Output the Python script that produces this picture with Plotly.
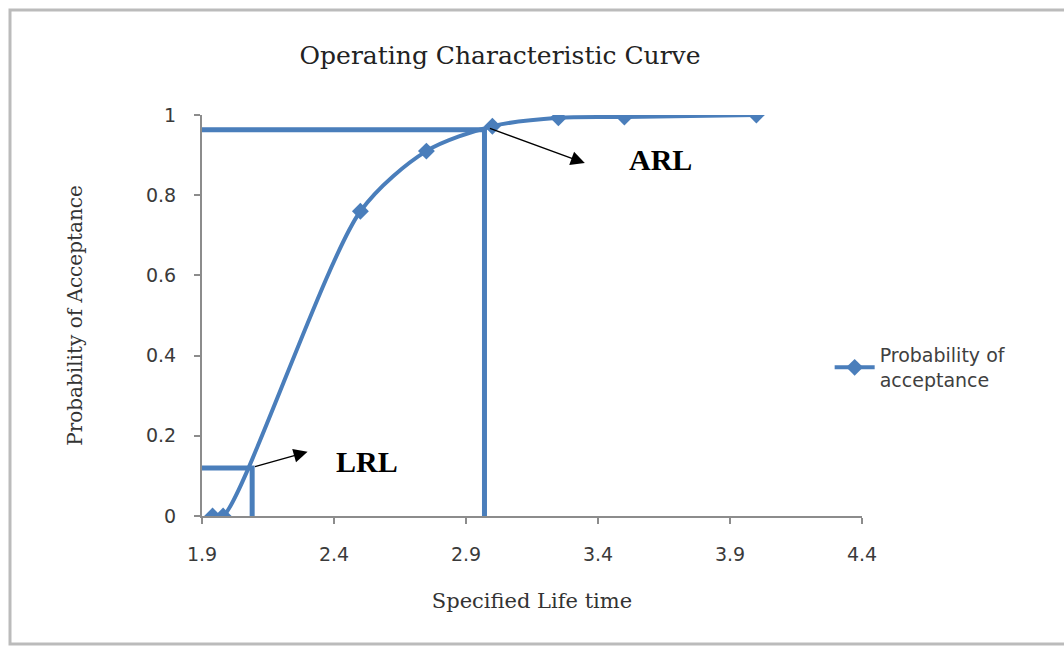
import plotly.graph_objects as go

# Data
life_time = [1.94, 1.98, 2.5, 2.75, 3.0, 3.25, 3.5, 4.0]
prob_accept = [0.0, 0.0, 0.76, 0.91, 0.972, 0.993, 0.995, 1.0]

arl_x = 2.97
arl_y = 0.963
lrl_x = 2.09
lrl_y = 0.12

x_ticks = [1.9, 2.4, 2.9, 3.4, 3.9, 4.4]
y_ticks = [0, 0.2, 0.4, 0.6, 0.8, 1]

BLUE = "#4A7EBB"
AXIS = "#8C8C8C"
SERIF = "DejaVu Serif"
SANS = "DejaVu Sans"

fig = go.Figure()

# Reference lines (ARL and LRL)
fig.add_trace(go.Scatter(
    x=[x_ticks[0], arl_x, arl_x], y=[arl_y, arl_y, 0],
    mode="lines", line=dict(color=BLUE, width=5), showlegend=False, hoverinfo="skip"))
fig.add_trace(go.Scatter(
    x=[x_ticks[0], lrl_x, lrl_x], y=[lrl_y, lrl_y, 0],
    mode="lines", line=dict(color=BLUE, width=5), showlegend=False, hoverinfo="skip"))

# OC curve
fig.add_trace(go.Scatter(
    x=life_time, y=prob_accept, mode="lines+markers",
    line=dict(color=BLUE, width=4, shape="spline", smoothing=0.8),
    marker=dict(symbol="diamond", size=13, color=BLUE),
    name="Probability of<br>acceptance"))

fig.update_layout(
    width=1064, height=646,
    margin=dict(l=202, r=202, t=115, b=130),
    paper_bgcolor="white", plot_bgcolor="white",
    title=dict(text="Operating Characteristic Curve", x=0.47, xanchor="center",
               y=1 - 55 / 646, yanchor="middle", yref="container",
               font=dict(family=SERIF, size=25, color="#222222")),
    xaxis=dict(range=[1.9, 4.4], tickvals=x_ticks, ticktext=[f"{v:g}" for v in x_ticks],
               showgrid=False, zeroline=False, showline=True, linecolor=AXIS, linewidth=2,
               ticks="outside", ticklen=6, tickcolor=AXIS, tickwidth=1.5,
               ticklabelstandoff=14,
               tickfont=dict(family=SANS, size=19, color="#3A3A3A"),
               title=dict(text="Specified Life time", standoff=30,
                          font=dict(family=SERIF, size=21, color="#333333"))),
    yaxis=dict(range=[0, 1.0], tickvals=y_ticks, ticktext=[f"{v:g}" for v in y_ticks],
               showgrid=False, zeroline=False, showline=True, linecolor=AXIS, linewidth=2,
               ticks="outside", ticklen=6, tickcolor=AXIS, tickwidth=1.5,
               ticklabelstandoff=14,
               tickfont=dict(family=SANS, size=19, color="#3A3A3A"),
               title=dict(text="Probability of Acceptance", standoff=58,
                          font=dict(family=SERIF, size=20, color="#333333"))),
    legend=dict(x=0.951, y=0.37, xanchor="left", yanchor="middle",
                font=dict(family=SANS, size=19, color="#404040"),
                bgcolor="rgba(0,0,0,0)", itemwidth=40),
    shapes=[dict(type="rect", xref="paper", yref="paper",
                 x0=-192 / 660, x1=1.4, y0=-128 / 401, y1=506 / 401,
                 line=dict(color="#BBBBBB", width=3), layer="below")],
)

# Arrows
fig.add_annotation(x=3.35, y=0.88, ax=2.985, ay=0.968, xref="x", yref="y",
                   axref="x", ayref="y", showarrow=True, arrowhead=2,
                   arrowsize=2, arrowwidth=1.4, arrowcolor="black", text="")
fig.add_annotation(x=2.30, y=0.16, ax=2.095, ay=0.122, xref="x", yref="y",
                   axref="x", ayref="y", showarrow=True, arrowhead=2,
                   arrowsize=2, arrowwidth=1.4, arrowcolor="black", text="")
fig.add_annotation(x=3.635, y=0.888, text="<b>ARL</b>", showarrow=False,
                   font=dict(family="Liberation Serif", size=30, color="black"))
fig.add_annotation(x=2.525, y=0.137, text="<b>LRL</b>", showarrow=False,
                   font=dict(family="Liberation Serif", size=30, color="black"))

fig.write_html("out.html")
